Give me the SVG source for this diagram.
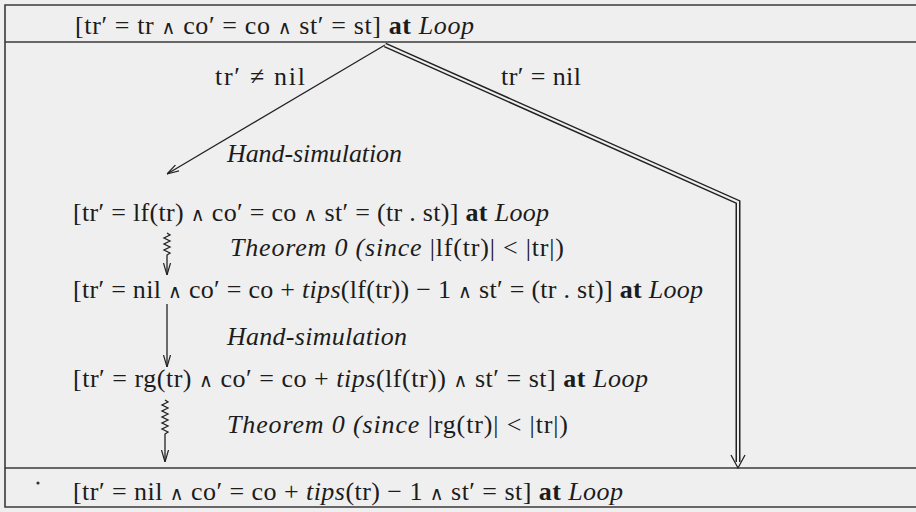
<svg xmlns="http://www.w3.org/2000/svg" width="916" height="512" viewBox="0 0 916 512">
<style>
.t{font-family:"Liberation Serif","Times New Roman",serif;font-size:26px;fill:#1c1c1c}
.i{font-style:italic}
.b{font-weight:bold}
.w{font-family:"DejaVu Serif",serif;font-size:19px}
.frame{stroke:#3a3a3a;stroke-width:1.6;fill:none}
.ln{stroke:#222;stroke-width:1.3;fill:none}
</style>
<defs>
<marker id="arr" viewBox="0 0 12 10" refX="12" refY="5" markerWidth="12" markerHeight="10" markerUnits="userSpaceOnUse" orient="auto">
<path d="M0,1.5 L12,5 L0,8.5" fill="none" stroke="#222" stroke-width="1.2"/>
</marker>
</defs>
<rect width="916" height="512" fill="#efefef"/>
<g id="frame">
<path class="frame" d="M916,5 H5 V507 H916"/>
<line class="frame" x1="5" y1="42" x2="916" y2="42"/>
<line class="frame" x1="5" y1="468" x2="916" y2="468"/>
</g>
<g id="n-top"><text class="t" x="75" y="34" textLength="399">[tr′ = tr <tspan class="w">∧</tspan> co′ = co <tspan class="w">∧</tspan> st′ = st] <tspan class="b">at</tspan> <tspan class="i">Loop</tspan></text></g>
<g id="n-lf"><text class="t" x="73" y="221" textLength="476">[tr′ = lf(tr) <tspan class="w">∧</tspan> co′ = co <tspan class="w">∧</tspan> st′ = (tr . st)] <tspan class="b">at</tspan> <tspan class="i">Loop</tspan></text></g>
<g id="n-nil"><text class="t" x="73" y="298" textLength="630">[tr′ = nil <tspan class="w">∧</tspan> co′ = co + <tspan class="i">tips</tspan>(lf(tr)) − 1 <tspan class="w">∧</tspan> st′ = (tr . st)] <tspan class="b">at</tspan> <tspan class="i">Loop</tspan></text></g>
<g id="n-rg"><text class="t" x="73" y="387" textLength="575">[tr′ = rg(tr) <tspan class="w">∧</tspan> co′ = co + <tspan class="i">tips</tspan>(lf(tr)) <tspan class="w">∧</tspan> st′ = st] <tspan class="b">at</tspan> <tspan class="i">Loop</tspan></text></g>
<g id="n-bottom">
<circle cx="38" cy="483" r="1.6" fill="#333"/>
<text class="t" x="73" y="500" textLength="550">[tr′ = nil <tspan class="w">∧</tspan> co′ = co + <tspan class="i">tips</tspan>(tr) − 1 <tspan class="w">∧</tspan> st′ = st] <tspan class="b">at</tspan> <tspan class="i">Loop</tspan></text>
</g>
<g id="connectors">
<line class="ln" x1="385" y1="45" x2="167" y2="174" marker-end="url(#arr)"/>
<path d="M385,45 L738,202 V462" fill="none" stroke="#222" stroke-width="5"/>
<path d="M385,45 L738,202 V462" fill="none" stroke="#efefef" stroke-width="2"/>
<path d="M731,455 L738,468 L745,455" fill="none" stroke="#222" stroke-width="1.3"/>
<path class="ln" d="M167,233 l3,2 l-6,3 l6,3 l-6,3 l6,3 l-6,3 l6,3 l-3,2 V275" marker-end="url(#arr)"/>
<line class="ln" x1="167" y1="304" x2="167" y2="367" marker-end="url(#arr)"/>
<path class="ln" d="M165,400 l3,2 l-6,3 l6,3 l-6,3 l6,3 l-6,3 l6,3 l-6,3 l6,3 l-6,3 l6,3 l-3,2 V462" marker-end="url(#arr)"/>
<text class="t" x="215" y="85" textLength="90">tr′ ≠ nil</text>
<text class="t" x="501" y="85" textLength="80">tr′ = nil</text>
<text class="t i" x="227" y="162" textLength="175">Hand-simulation</text>
<text class="t" x="230" y="256" textLength="334"><tspan class="i">Theorem 0 (since</tspan> |lf(tr)| &lt; |tr|)</text>
<text class="t i" x="227" y="345" textLength="180">Hand-simulation</text>
<text class="t" x="227" y="433" textLength="341"><tspan class="i">Theorem 0 (since</tspan> |rg(tr)| &lt; |tr|)</text>
</g>
</svg>
